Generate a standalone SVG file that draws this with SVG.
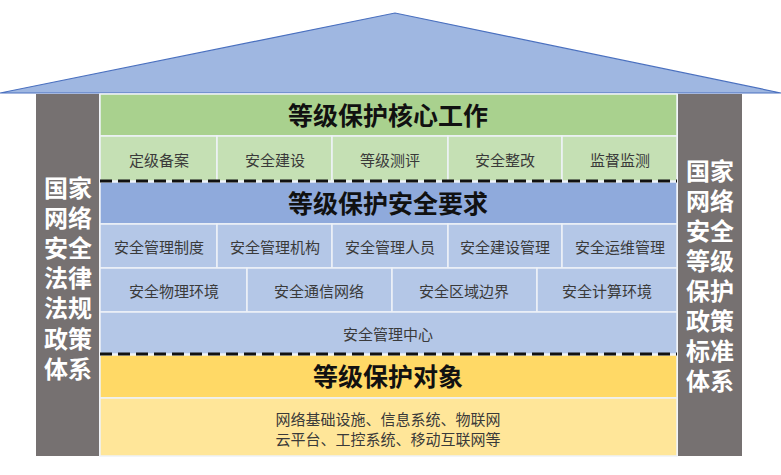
<svg xmlns="http://www.w3.org/2000/svg" width="781" height="475" viewBox="0 0 781 475">
<style>
text{font-family:"Noto Sans CJK SC","Noto Sans",sans-serif;text-anchor:middle;dominant-baseline:central}
.h{font-size:25px;font-weight:bold;fill:#111}
.s{font-size:15px;fill:#3a3a3a}
.p{font-size:24px;font-weight:bold;fill:#fff}
.cell{stroke:#eef2f8;stroke-width:1.5}
.dash{stroke:#111;stroke-width:3;stroke-dasharray:12 6;fill:none}
</style>
<rect width="781" height="475" fill="#fff"/>
<g id="roof"><polygon points="0,93 395,13 781,93" fill="#9fb7e1" stroke="#4a70bf" stroke-width="1.2"/></g>
<g id="left-pillar">
<rect x="36" y="94" width="63" height="362" fill="#767171"/>
<text class="p" x="68" y="186">国家</text>
<text class="p" x="68" y="216">网络</text>
<text class="p" x="68" y="246">安全</text>
<text class="p" x="68" y="276">法律</text>
<text class="p" x="68" y="306">法规</text>
<text class="p" x="68" y="337">政策</text>
<text class="p" x="68" y="367">体系</text>
</g>
<g id="right-pillar">
<rect x="678" y="94" width="64" height="362" fill="#767171"/>
<text class="p" x="710" y="169">国家</text>
<text class="p" x="710" y="199">网络</text>
<text class="p" x="710" y="229">安全</text>
<text class="p" x="710" y="259">等级</text>
<text class="p" x="710" y="289">保护</text>
<text class="p" x="710" y="319">政策</text>
<text class="p" x="710" y="349">标准</text>
<text class="p" x="710" y="379">体系</text>
</g>
<g id="core-work">
<rect class="cell" x="100" y="94" width="577" height="42" fill="#a9d18e"/>
<text class="h" x="388" y="114">等级保护核心工作</text>
<rect class="cell" x="100" y="136" width="117" height="45" fill="#c5e0b4"/>
<rect class="cell" x="217" y="136" width="115" height="45" fill="#c5e0b4"/>
<rect class="cell" x="332" y="136" width="116" height="45" fill="#c5e0b4"/>
<rect class="cell" x="448" y="136" width="114" height="45" fill="#c5e0b4"/>
<rect class="cell" x="562" y="136" width="115" height="45" fill="#c5e0b4"/>
<text class="s" x="159" y="159">定级备案</text>
<text class="s" x="275" y="159">安全建设</text>
<text class="s" x="390" y="159">等级测评</text>
<text class="s" x="505" y="159">安全整改</text>
<text class="s" x="620" y="159">监督监测</text>
</g>
<g id="requirements">
<rect class="cell" x="100" y="182" width="577" height="42" fill="#8faadc"/>
<text class="h" x="388" y="202">等级保护安全要求</text>
<rect class="cell" x="100" y="224" width="117" height="44" fill="#b4c7e7"/>
<rect class="cell" x="217" y="224" width="115" height="44" fill="#b4c7e7"/>
<rect class="cell" x="332" y="224" width="116" height="44" fill="#b4c7e7"/>
<rect class="cell" x="448" y="224" width="114" height="44" fill="#b4c7e7"/>
<rect class="cell" x="562" y="224" width="115" height="44" fill="#b4c7e7"/>
<text class="s" x="159" y="246">安全管理制度</text>
<text class="s" x="275" y="246">安全管理机构</text>
<text class="s" x="390" y="246">安全管理人员</text>
<text class="s" x="505" y="246">安全建设管理</text>
<text class="s" x="620" y="246">安全运维管理</text>
<rect class="cell" x="100" y="268" width="147" height="44" fill="#b4c7e7"/>
<rect class="cell" x="247" y="268" width="145" height="44" fill="#b4c7e7"/>
<rect class="cell" x="392" y="268" width="145" height="44" fill="#b4c7e7"/>
<rect class="cell" x="537" y="268" width="140" height="44" fill="#b4c7e7"/>
<text class="s" x="174" y="290">安全物理环境</text>
<text class="s" x="319" y="290">安全通信网络</text>
<text class="s" x="464" y="290">安全区域边界</text>
<text class="s" x="607" y="290">安全计算环境</text>
<rect class="cell" x="100" y="312" width="577" height="42" fill="#b4c7e7"/>
<text class="s" x="388" y="333">安全管理中心</text>
</g>
<g id="objects">
<rect class="cell" x="100" y="355" width="577" height="43" fill="#ffd966"/>
<text class="h" x="388" y="375">等级保护对象</text>
<rect class="cell" x="100" y="398" width="577" height="58" fill="#ffe699"/>
<text class="s" x="388" y="418">网络基础设施、信息系统、物联网</text>
<text class="s" x="388" y="438">云平台、工控系统、移动互联网等</text>
</g>
<g id="connectors">
<line class="dash" x1="100" y1="181" x2="677" y2="181"/>
<line class="dash" x1="100" y1="354" x2="677" y2="354"/>
</g>
</svg>
